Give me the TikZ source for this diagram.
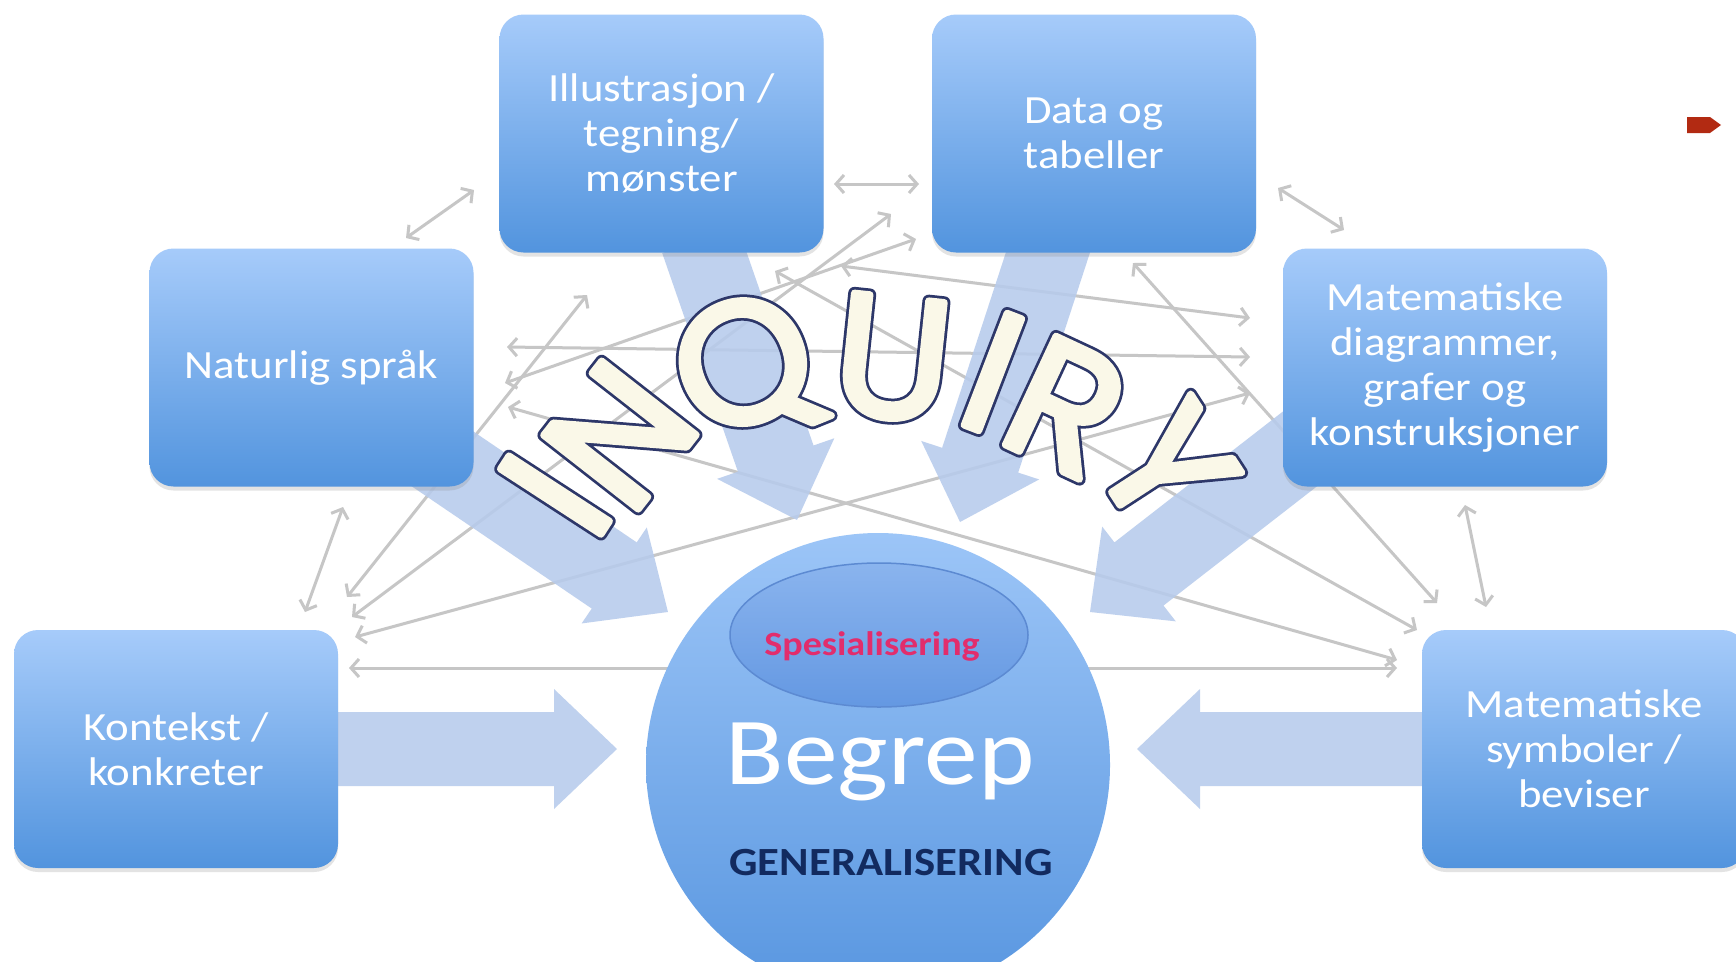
\documentclass[tikz,border=0pt]{standalone}
\usepackage{fontspec}
\setmainfont{Carlito}[FakeStretch=1.12]
\newfontfamily\inqdark{Poppins}[FakeBold=7.2]
\newfontfamily\inqlight{Poppins}[FakeBold=4.0]
\usetikzlibrary{arrows.meta,calc,shadows,shapes.geometric}
\definecolor{boxtop}{RGB}{166,203,250}
\definecolor{boxbot}{RGB}{82,148,222}
\definecolor{bigarr}{RGB}{183,203,236}
\definecolor{thinln}{RGB}{198,198,198}
\definecolor{inqline}{RGB}{45,55,105}
\definecolor{inqfill}{RGB}{250,248,232}
\definecolor{spes}{RGB}{226,45,108}
\definecolor{genl}{RGB}{18,42,95}
\definecolor{marker}{RGB}{178,42,18}
\definecolor{circtop}{RGB}{156,197,247}
\definecolor{circbot}{RGB}{88,150,224}
\definecolor{elltop}{RGB}{138,180,238}
\definecolor{ellbot}{RGB}{100,152,226}
\definecolor{elldraw}{RGB}{92,138,210}

\tikzset{
  repbox/.style={rounded corners=24pt, minimum width=324pt, minimum height=238pt,
    top color=boxtop, bottom color=boxbot, draw=none, text=white, align=center,
    font=\fontsize{40}{45}\selectfont,
    drop shadow={opacity=0.22, shadow xshift=0pt, shadow yshift=-4pt}},
  link/.style={draw=thinln, line width=3pt,
    {Straight Barb[length=8pt,width=18pt]}-{Straight Barb[length=8pt,width=18pt]}},
  bigarrow/.style={fill=bigarr, opacity=0.88},
  inqd/.style={font=\inqdark\fontsize{172}{172}\selectfont, inner sep=0pt, line join=round, text=inqline},
  inql/.style={font=\inqlight\fontsize{172}{172}\selectfont, inner sep=0pt, line join=round, text=inqfill},
}

\newcommand\fatarrow[7]{%
  \pgfmathsetmacro\fadx{#3-(#1)}%
  \pgfmathsetmacro\fady{#4-(#2)}%
  \pgfmathsetmacro\falen{veclen(\fadx,\fady)}%
  \pgfmathsetmacro\faang{atan2(-\fady,\fadx)}%
  \pgfmathsetmacro\fabase{\falen-#7}%
  \begin{scope}[shift={(#1,#2)},rotate=\faang]
    \fill[bigarrow] (0,-#5) -- (\fabase,-#5) -- (\fabase,-#6) -- (\falen,0)
      -- (\fabase,#6) -- (\fabase,#5) -- (0,#5) -- cycle;
  \end{scope}}

\newcommand\inqletter[5]{%
  \node[inqd, rotate=#4] (#1d) at (#2,#3) {#5};
  \node[inql, rotate=#4] (#1) at (#2,#3) {#5};}

\begin{document}
\begin{tikzpicture}[x=1pt,y=-1pt]
\useasboundingbox (0,0) rectangle (1736,961);
\clip (0,0) rectangle (1736,961);
\fill[white] (0,0) rectangle (1736,961);

% link end points
\coordinate (nI) at (406,238);  \coordinate (iN) at (474,190);
\coordinate (iD) at (834,184);  \coordinate (dI) at (919,184);
\coordinate (dM) at (1278,188); \coordinate (mD) at (1344,230);
\coordinate (nK) at (343,507);  \coordinate (kN) at (305,612);
\coordinate (mS) at (1465,505); \coordinate (sM) at (1486,607);
\coordinate (kS) at (349,668);  \coordinate (sK) at (1397,668);
\coordinate (kI) at (347,597);  \coordinate (iK) at (587,295);
\coordinate (kD) at (352,617);  \coordinate (dK) at (891,214);
\coordinate (kM) at (355,637);  \coordinate (mK) at (1250,393);
\coordinate (nM) at (507,347);  \coordinate (mN) at (1250,357);
\coordinate (nD) at (505,383);  \coordinate (dN) at (916,239);
\coordinate (nS) at (508,407);  \coordinate (sN) at (1397,660);
\coordinate (iM) at (841,266);  \coordinate (mI) at (1250,318);
\coordinate (iS) at (775,271);  \coordinate (sI) at (1417,630);
\coordinate (dS) at (1133,263); \coordinate (sD) at (1437,603);

% thin links
\draw[link] (nI) -- (iN);
\draw[link] (iD) -- (dI);
\draw[link] (dM) -- (mD);
\draw[link] (nK) -- (kN);
\draw[link] (mS) -- (sM);
\draw[link] (kS) -- (sK);
\draw[link] (kI) -- (iK);
\draw[link] (kD) -- (dK);
\draw[link] (kM) -- (mK);
\draw[link] (nM) -- (mN);
\draw[link] (nD) -- (dN);
\draw[link] (nS) -- (sN);
\draw[link] (iM) -- (mI);
\draw[link] (iS) -- (sI);
\draw[link] (dS) -- (sD);

% big arrows towards the concept
\fatarrow{300}{749}{617}{749}{37}{60}{63}
\fatarrow{1460}{749}{1137}{749}{37}{60}{63}
\fatarrow{700}{240}{797}{520}{40}{62}{65}
\fatarrow{1052}{240}{960}{522}{40}{62}{65}
\fatarrow{400}{430}{668}{612}{40}{58}{65}
\fatarrow{1350}{410}{1090}{612}{40}{60}{62}

% representation boxes
\node[repbox] (ill)  at (661.5,133.5) {Illustrasjon /\\tegning/\\mønster};
\node[repbox] (data) at (1094,133.5) {Data og\\tabeller};
\node[repbox] (nat)  at (311.5,367.5) {Naturlig språk};
\node[repbox] (matd) at (1445,367.5) {Matematiske\\diagrammer,\\grafer og\\konstruksjoner};
\node[repbox] (kont) at (176,749) {Kontekst /\\konkreter};
\node[repbox] (sym)  at (1584,749) {Matematiske\\symboler /\\beviser};

% concept circle
\node[circle, minimum size=464pt, top color=circtop, bottom color=circbot, draw=none] (begrep) at (878,765) {};
\node[ellipse, minimum width=298pt, minimum height=144pt, top color=elltop, bottom color=ellbot,
      draw=elldraw, line width=1.5pt] (spesell) at (879,635) {};
\node[text=spes, font=\bfseries\fontsize{34}{34}\selectfont] (spestxt) at (872,646) {Spesialisering};
\node[text=white, font=\fontsize{96}{96}\selectfont, anchor=base] (begreptxt) at (880,784) {Begrep};
\node[text=genl, font=\bfseries\fontsize{40}{40}\selectfont, anchor=base] (gentxt) at (891,875) {GENERALISERING};

% INQUIRY word art
\inqletter{q1}{555}{495}{57}{I}
\inqletter{q2}{620}{435}{52}{N}
\inqletter{q3}{747}{372}{22}{Q}
\inqletter{q4}{893}{358}{-6}{U}
\inqletter{q5}{993}{372}{-21}{I}
\inqletter{q6}{1066}{407}{-25}{R}
\inqletter{q7}{1166}{466}{-57}{Y}

% bullet marker
\fill[marker] (1687,117) -- (1710,117) -- (1721,125) -- (1710,133) -- (1687,133) -- cycle;
\end{tikzpicture}
\end{document}
